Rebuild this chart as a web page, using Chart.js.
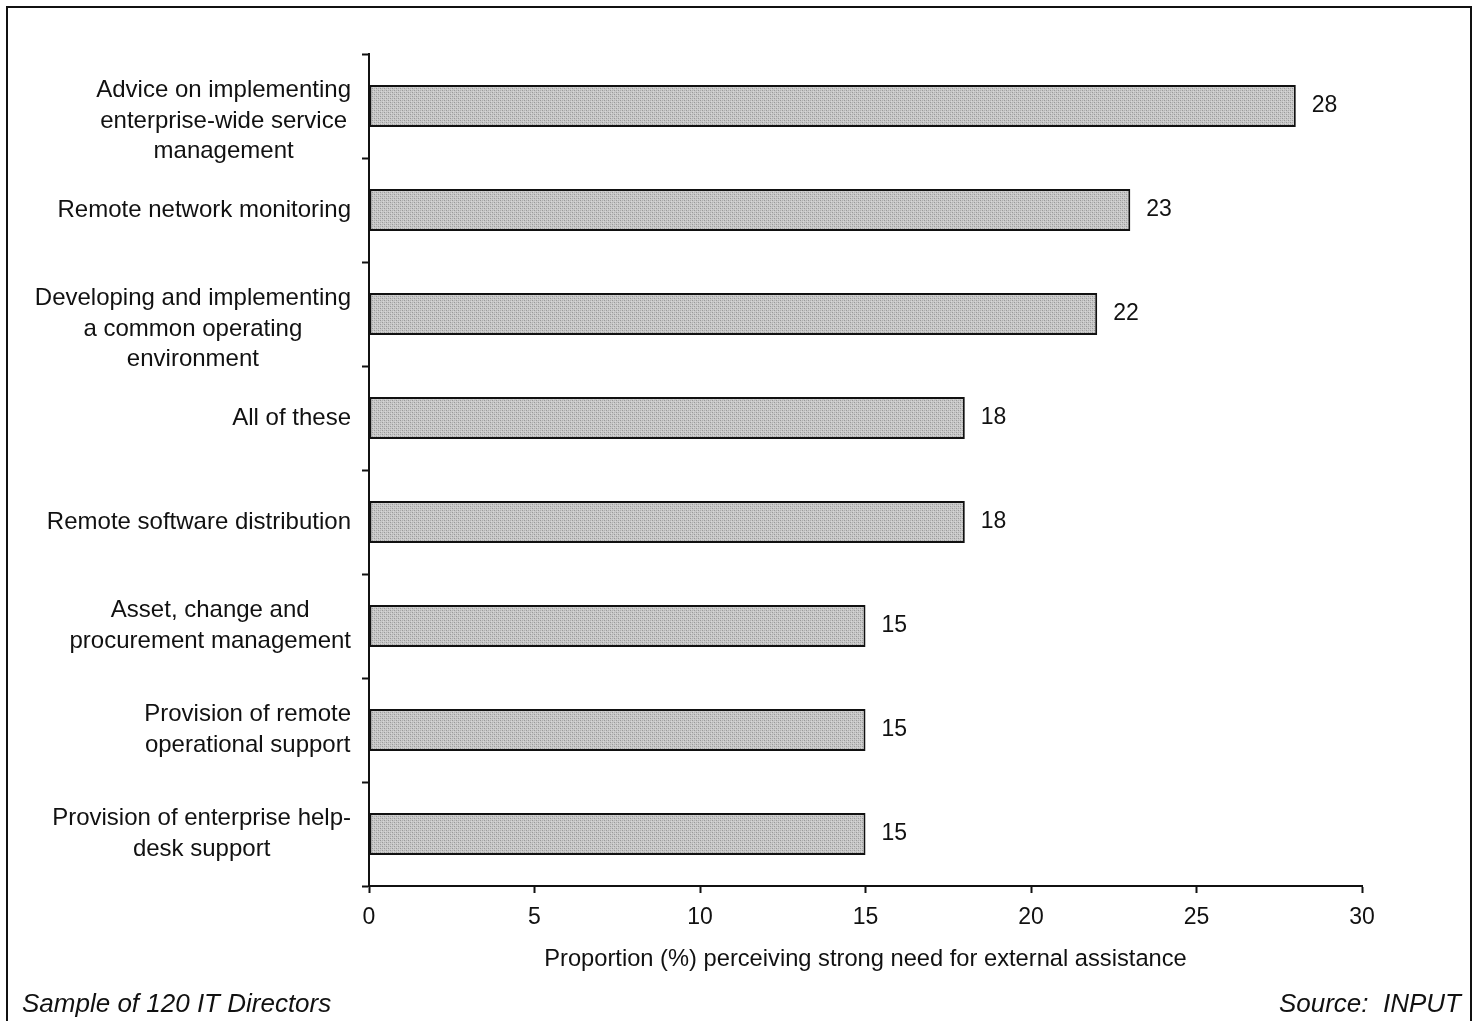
<!DOCTYPE html>
<html>
<head>
<meta charset="utf-8">
<script src="https://cdn.jsdelivr.net/npm/chart.js@4.4.1/dist/chart.umd.min.js"></script>
<style>
  html, body { margin: 0; padding: 0; background: #ffffff; }
  #wrap { width: 1478px; height: 1021px; position: relative; }
</style>
</head>
<body>
<div id="wrap"><canvas id="chart" width="1478" height="1021"></canvas></div>
<script>
// Chart data
var categories = [
    ['Advice on implementing', 'enterprise-wide service', 'management'],
    ['Remote network monitoring'],
    ['Developing and implementing', 'a common operating', 'environment'],
    ['All of these'],
    ['Remote software distribution'],
    ['Asset, change and', 'procurement management'],
    ['Provision of remote', 'operational support'],
    ['Provision of enterprise help-', 'desk support']
];
var values = [28, 23, 22, 18, 18, 15, 15, 15];
var xTicks = [0, 5, 10, 15, 20, 25, 30];
var xTitle = 'Proportion (%) perceiving strong need for external assistance';
var noteLeft = 'Sample of 120 IT Directors';
var noteRight = 'Source:  INPUT';

var FONT = '"Liberation Sans", Arial, Helvetica, sans-serif';

// stippled grey fill like the printed original
function makeStipple() {
    var c = document.createElement('canvas');
    c.width = 4; c.height = 4;
    var g = c.getContext('2d');
    g.fillStyle = '#c8c8c8';
    g.fillRect(0, 0, 4, 4);
    g.fillStyle = '#999999';
    g.fillRect(0, 0, 1, 1);
    g.fillRect(2, 2, 1, 1);
    g.fillStyle = '#b0b0b0';
    g.fillRect(2, 0, 1, 1);
    g.fillRect(0, 2, 1, 1);
    g.fillStyle = '#d6d6d6';
    g.fillRect(1, 3, 1, 1);
    g.fillRect(3, 1, 1, 1);
    return g.createPattern(c, 'repeat');
}

/**
 * Draws frame, category labels, value labels and footnotes
 */
var decorPlugin = {
    id: 'decor',
    beforeDraw: function (chart) {
        var ctx = chart.ctx;
        ctx.save();
        ctx.fillStyle = '#ffffff';
        ctx.fillRect(0, 0, chart.width, chart.height);
        ctx.strokeStyle = '#111111';
        ctx.lineWidth = 2;
        ctx.beginPath();
        ctx.moveTo(7, chart.height + 2);
        ctx.lineTo(7, 7);
        ctx.lineTo(1471, 7);
        ctx.lineTo(1471, chart.height + 2);
        ctx.stroke();
        ctx.restore();
    },
    afterDraw: function (chart) {
        var ctx = chart.ctx;
        var yScale = chart.scales.y;
        ctx.save();
        ctx.fillStyle = '#111111';

        // category labels, each block centred on its own widest line;
        // multi-line blocks start half a line above the bar centre
        ctx.font = '24px ' + FONT;
        ctx.textBaseline = 'middle';
        ctx.textAlign = 'center';
        var lineH = 30.5;
        categories.forEach(function (lines, i) {
            var widest = 0;
            lines.forEach(function (l) {
                widest = Math.max(widest, ctx.measureText(l).width);
            });
            var cx = yScale.right - 18 - widest / 2;
            var cy = yScale.getPixelForValue(i);
            var y0 = cy - Math.min(lines.length - 1, 1) * lineH / 2;
            lines.forEach(function (l, k) {
                ctx.fillText(l, cx, y0 + k * lineH);
            });
        });

        // value labels at bar ends
        ctx.font = '23px ' + FONT;
        ctx.textAlign = 'left';
        var meta = chart.getDatasetMeta(0);
        meta.data.forEach(function (bar, i) {
            ctx.fillText(String(values[i]), bar.x + 16, bar.y);
        });

        // footnotes
        ctx.font = 'italic 26px ' + FONT;
        ctx.textBaseline = 'alphabetic';
        ctx.fillText(noteLeft, 22, 1012);
        ctx.textAlign = 'right';
        ctx.fillText(noteRight, 1461, 1012);
        ctx.restore();
    }
};

var ctx = document.getElementById('chart');
var chart = new Chart(ctx, {
    type: 'bar',
    data: {
        labels: categories,
        datasets: [{
            data: values,
            backgroundColor: makeStipple(),
            borderColor: '#111111',
            borderWidth: 2,
            borderSkipped: false,
            categoryPercentage: 1.0,
            barPercentage: 0.404
        }]
    },
    plugins: [decorPlugin],
    options: {
        indexAxis: 'y',
        responsive: false,
        animation: false,
        events: [],
        layout: {
            padding: {top: 54, right: 116, bottom: 0, left: 0}
        },
        plugins: {
            legend: {display: false},
            tooltip: {enabled: false}
        },
        scales: {
            x: {
                min: 0,
                max: 30,
                afterBuildTicks: function (scale) {
                    scale.ticks = xTicks.map(function (v) { return {value: v}; });
                },
                afterFit: function (scale) {
                    scale.height = 135;
                },
                grid: {
                    drawOnChartArea: false,
                    drawTicks: true,
                    tickLength: 7,
                    tickWidth: 2,
                    tickColor: '#111111'
                },
                border: {display: true, color: '#111111', width: 2},
                ticks: {
                    font: {family: FONT, size: 23},
                    color: '#111111',
                    padding: 11,
                    maxRotation: 0
                },
                title: {
                    display: true,
                    text: xTitle,
                    font: {family: FONT, size: 23.7},
                    color: '#111111',
                    padding: {top: 0, bottom: 47}
                }
            },
            y: {
                afterFit: function (scale) {
                    scale.width = 369;
                },
                grid: {
                    offset: true,
                    drawOnChartArea: false,
                    drawTicks: true,
                    tickLength: 7,
                    tickWidth: 2,
                    tickColor: '#111111'
                },
                border: {display: true, color: '#111111', width: 2},
                ticks: {display: false}
            }
        }
    }
});
</script>
</body>
</html>
